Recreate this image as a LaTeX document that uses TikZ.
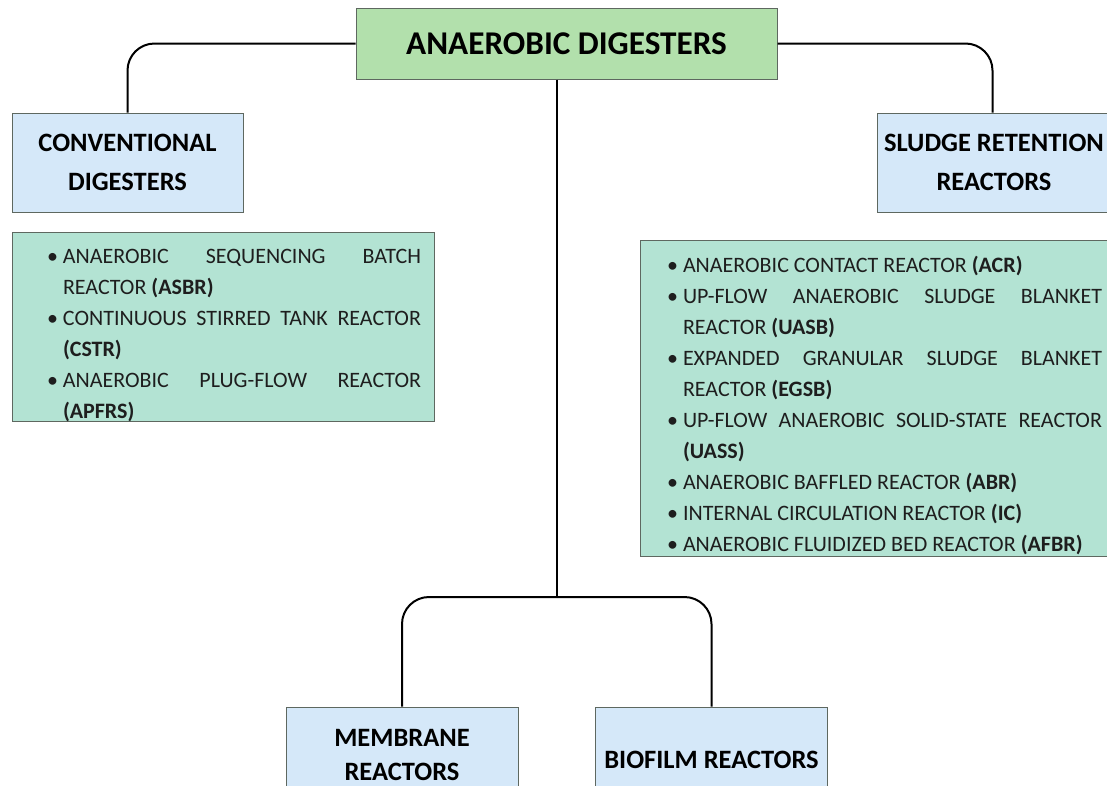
\documentclass[tikz,border=0pt]{standalone}
\usepackage{fontspec}
\setmainfont{Carlito}
\definecolor{rootgreen}{HTML}{B2E0AC}
\definecolor{catblue}{HTML}{D5E8F9}
\definecolor{listmint}{HTML}{B3E3D3}
\definecolor{edgegray}{HTML}{5E6860}
\definecolor{ink}{HTML}{1E1E1E}
\newcommand{\bitem}{\par\noindent\llap{\makebox[16pt][l]{\textbullet}}}
\begin{document}
\begin{tikzpicture}[x=1pt,y=-1pt,
  box/.style={draw=edgegray, line width=1pt, rectangle, inner sep=0pt, align=center},
  rootbox/.style={box, fill=rootgreen, minimum width=421pt, minimum height=71pt, font=\bfseries\fontsize{33.2}{38}\selectfont},
  catbox/.style={box, fill=catblue, minimum width=231pt, minimum height=99pt, font=\bfseries\fontsize{26.5}{39}\selectfont},
  listbox/.style={box, fill=listmint, align=justify, font=\fontsize{22}{31}\selectfont, text=ink},
  conn/.style={draw=black, line width=2pt, rounded corners=27pt}]
\useasboundingbox (0,0) rectangle (1107,785);

\node[rootbox] (root) at (566.5,43.5) {ANAEROBIC DIGESTERS};
\node[catbox] (conv) at (127.5,162.5) {CONVENTIONAL\\DIGESTERS};
\node[catbox, minimum width=234pt] (sludge) at (994,162.5) {SLUDGE RETENTION\\REACTORS};
\node[catbox, minimum width=232pt, minimum height=96pt,
      font=\bfseries\fontsize{26.5}{34}\selectfont] (mem) at (402,755) {MEMBRANE\\REACTORS};
\node[catbox, minimum width=232pt, minimum height=106pt] (bio) at (711.5,760) {BIOFILM REACTORS};

\node[listbox, minimum width=422pt, minimum height=188pt, text width=396pt] (convlist) at (223,327)
 {\leftskip=38pt\relax\hbadness=10000\hyphenpenalty=10000\exhyphenpenalty=10000
  \bitem ANAEROBIC SEQUENCING BATCH\linebreak REACTOR \textbf{(ASBR)}
  \bitem CONTINUOUS STIRRED TANK REACTOR\linebreak \textbf{(CSTR)}
  \bitem ANAEROBIC PLUG-FLOW REACTOR\linebreak \textbf{(APFRS)}\par};

\node[listbox, minimum width=475pt, minimum height=316pt, text width=449pt] (srlist) at (877.5,398)
 {\leftskip=30pt\relax\hbadness=10000\hyphenpenalty=10000\exhyphenpenalty=10000
  \bitem ANAEROBIC CONTACT REACTOR \textbf{(ACR)}
  \bitem UP-FLOW ANAEROBIC SLUDGE BLANKET\linebreak REACTOR \textbf{(UASB)}
  \bitem EXPANDED GRANULAR SLUDGE BLANKET\linebreak REACTOR \textbf{(EGSB)}
  \bitem UP-FLOW ANAEROBIC SOLID-STATE REACTOR\linebreak \textbf{(UASS)}
  \bitem ANAEROBIC BAFFLED REACTOR \textbf{(ABR)}
  \bitem INTERNAL CIRCULATION REACTOR \textbf{(IC)}
  \bitem ANAEROBIC FLUIDIZED BED REACTOR \textbf{(AFBR)}\par};

\coordinate (split) at (557,597);

\draw[conn] (root.west) -| (conv.north);
\draw[conn] ([yshift=0pt]root.east) -| ([xshift=-1.5pt]sludge.north);
\draw[conn, rounded corners=0pt] (root.south -| split) -- (split);
\draw[conn] (split) -| (mem.north);
\draw[conn] (split) -| (bio.north);
\end{tikzpicture}
\end{document}
